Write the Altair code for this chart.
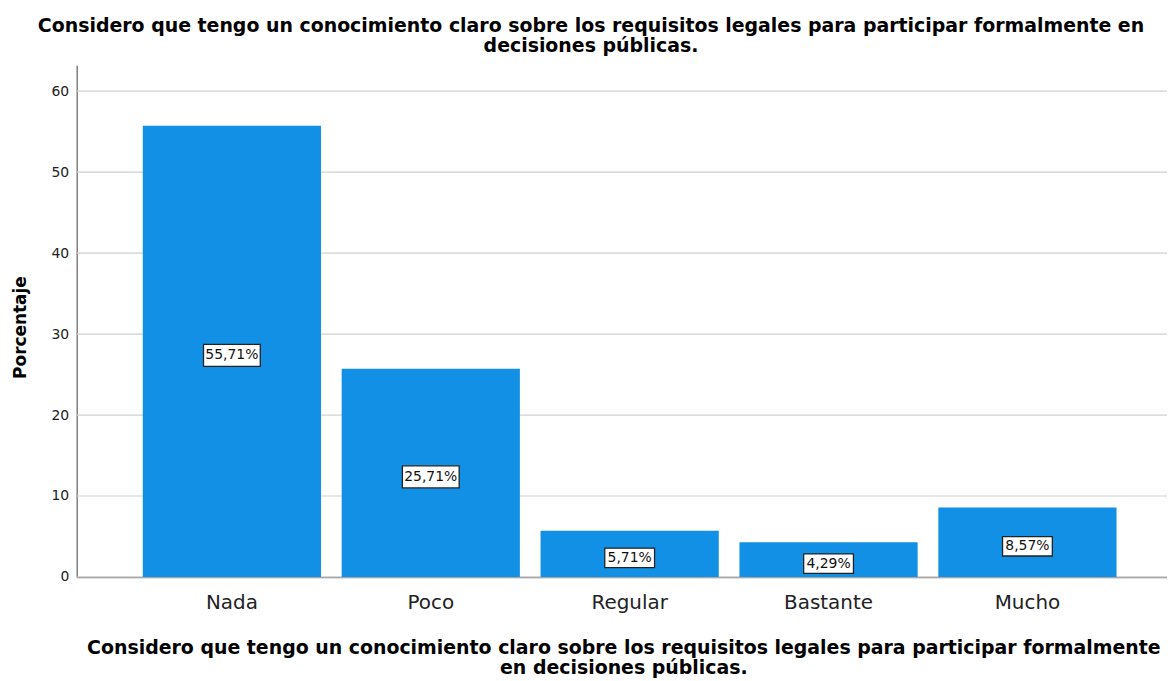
import altair as alt
import pandas as pd

categories = ["Nada", "Poco", "Regular", "Bastante", "Mucho"]
percentages = [55.71, 25.71, 5.71, 4.29, 8.57]

title_lines = [
    "Considero que tengo un conocimiento claro sobre los requisitos legales para participar formalmente en",
    "decisiones públicas.",
]
x_title_lines = [
    "Considero que tengo un conocimiento claro sobre los requisitos legales para participar formalmente",
    "en decisiones públicas.",
]
y_title = "Porcentaje"
y_ticks = [0, 10, 20, 30, 40, 50, 60]

df = pd.DataFrame({"cat": categories, "pct": percentages})
grid_df = pd.DataFrame({"tick": y_ticks})

FONT = "DejaVu Sans"
BAR = "#1290E6"

x_scale = alt.Scale(paddingInner=0.104, paddingOuter=0.293, align=0.567)
y_scale = alt.Scale(domain=[0, 63.2], nice=False)

x_axis = alt.Axis(
    title=x_title_lines,
    labelAngle=0,
    labelFontSize=20,
    labelFont=FONT,
    labelColor="#222222",
    labelPadding=16,
    ticks=False,
    domainColor="#7f7f7f",
    domainWidth=1.5,
    titleFont=FONT,
    titleFontSize=19,
    titleFontWeight="bold",
    titleColor="black",
    titlePadding=26,
    titleLineHeight=20,
    titleX=549,
    grid=False,
)

y_axis = alt.Axis(
    title=y_title,
    values=y_ticks,
    labelFontSize=14,
    labelFont=FONT,
    labelColor="#222222",
    labelPadding=8,
    ticks=False,
    grid=False,
    domainColor="#7f7f7f",
    domainWidth=1.5,
    titleFont=FONT,
    titleFontSize=17,
    titleFontWeight="bold",
    titleColor="black",
    titlePadding=22,
    titleY=263,
)

grid = alt.Chart(grid_df).mark_rule(color="#d0d0d0", strokeWidth=1.2).encode(
    y=alt.Y("tick:Q", scale=y_scale, axis=y_axis),
)

bars = alt.Chart(df).mark_bar(color=BAR).encode(
    x=alt.X("cat:N", sort=categories, scale=x_scale, axis=x_axis),
    y=alt.Y("pct:Q", scale=y_scale, axis=y_axis),
)

label_base = alt.Chart(df).transform_calculate(
    mid="datum.pct / 2",
    label="replace(format(datum.pct, '.2f'), '.', ',') + '%'",
).transform_calculate(
    boxsize="pow(length(datum.label) * 7 + 15, 2)"
)

boxes = label_base.mark_point(
    shape="M-1,-0.39L1,-0.39L1,0.39L-1,0.39Z",
    filled=True,
    fill="white",
    stroke="#222222",
    strokeWidth=1.3,
    opacity=1,
    yOffset=4,
).encode(
    x=alt.X("cat:N", sort=categories, scale=x_scale, axis=x_axis),
    y=alt.Y("mid:Q", scale=y_scale, axis=y_axis),
    size=alt.Size("boxsize:Q", scale=None, legend=None),
)

texts = label_base.mark_text(
    font=FONT, fontSize=14, color="#111111", baseline="middle", yOffset=4
).encode(
    x=alt.X("cat:N", sort=categories, scale=x_scale, axis=x_axis),
    y=alt.Y("mid:Q", scale=y_scale, axis=y_axis),
    text="label:N",
)

chart = (
    alt.layer(grid, bars, boxes, texts)
    .properties(
        width=1095,
        height=514,
        title=alt.Title(
            text=title_lines,
            font=FONT,
            fontSize=19,
            fontWeight="bold",
            color="black",
            anchor="middle",
            lineHeight=20.5,
            offset=9,
            dx=-31,
        ),
        padding={"left": 69, "top": 56, "right": 0, "bottom": 100},
        autosize=alt.AutoSizeParams(type="none"),
        view=alt.ViewBackground(stroke="transparent", strokeWidth=0),
    )
    .configure_view(stroke="transparent", strokeOpacity=0, strokeWidth=0)
    .configure(
        background="white",
        style={"cell": {"stroke": "transparent", "strokeWidth": 0}},
    )
)

chart.save("out.html", embed_options={"renderer": "svg", "actions": False})
